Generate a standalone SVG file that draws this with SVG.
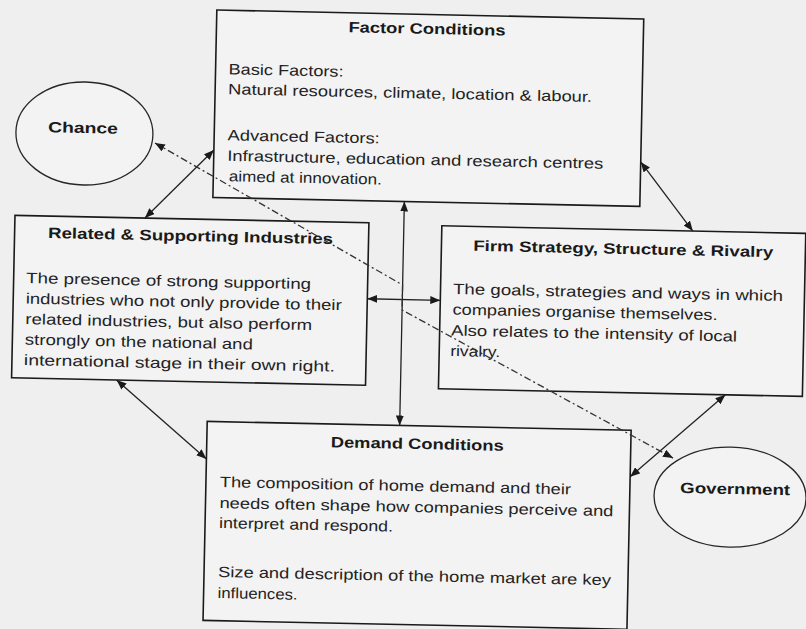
<svg xmlns="http://www.w3.org/2000/svg" width="806" height="629" viewBox="0 0 806 629">
  <style>
    .box { fill: #f3f3f3; stroke: #1a1a1a; stroke-width: 1.6; }
    .oval { fill: #f3f3f3; stroke: #262626; stroke-width: 1.3; }
    .t { font-family: "Liberation Sans", Arial, sans-serif; font-size: 15px; fill: #222222; }
    .h { font-family: "Liberation Sans", Arial, sans-serif; font-size: 15px; font-weight: bold; fill: #1a1a1a; text-anchor: middle; }
    .con { fill: none; stroke: #222222; stroke-width: 1.3; }
    .dash { fill: none; stroke: #333333; stroke-width: 1.3; stroke-dasharray: 7 3 2 3; }
  </style>
  <defs>
    <marker id="ah" viewBox="0 0 10 8" refX="10" refY="4" markerWidth="10" markerHeight="8" markerUnits="userSpaceOnUse" orient="auto-start-reverse">
      <path d="M0,0 L10,4 L0,8 z" fill="#1a1a1a"/>
    </marker>
  </defs>
  <rect x="0" y="0" width="806" height="629" fill="#efefef"/>
  <g transform="rotate(1.2 403 314)">
    <g id="factor-conditions">
      <rect class="box" x="210.5" y="14" width="427" height="187.5"/>
      <text class="h" x="421" y="33.5" textLength="157" lengthAdjust="spacingAndGlyphs">Factor Conditions</text>
      <text class="t" x="223.5" y="78" textLength="115" lengthAdjust="spacingAndGlyphs">Basic Factors:</text>
      <text class="t" x="223.5" y="98" textLength="364" lengthAdjust="spacingAndGlyphs">Natural resources, climate, location &amp; labour.</text>
      <text class="t" x="224" y="144" textLength="152" lengthAdjust="spacingAndGlyphs">Advanced Factors:</text>
      <text class="t" x="224" y="164.5" textLength="376" lengthAdjust="spacingAndGlyphs">Infrastructure, education and research centres</text>
      <text class="t" x="226" y="185" textLength="153" lengthAdjust="spacingAndGlyphs">aimed at innovation.</text>
    </g>
    <g id="related-supporting">
      <rect class="box" x="13" y="223.5" width="354" height="162.5"/>
      <text class="h" x="189" y="245.5" textLength="285" lengthAdjust="spacingAndGlyphs">Related &amp; Supporting Industries</text>
      <text class="t" x="25.5" y="291" textLength="285" lengthAdjust="spacingAndGlyphs">The presence of strong supporting</text>
      <text class="t" x="25.5" y="311.5" textLength="316" lengthAdjust="spacingAndGlyphs">industries who not only provide to their</text>
      <text class="t" x="25.5" y="332" textLength="287" lengthAdjust="spacingAndGlyphs">related industries, but also perform</text>
      <text class="t" x="25.5" y="352.5" textLength="228" lengthAdjust="spacingAndGlyphs">strongly on the national and</text>
      <text class="t" x="25" y="373" textLength="311" lengthAdjust="spacingAndGlyphs">international stage in their own right.</text>
    </g>
    <g id="firm-strategy">
      <rect class="box" x="440" y="225" width="364" height="163"/>
      <text class="h" x="621.8" y="249.4" textLength="300" lengthAdjust="spacingAndGlyphs">Firm Strategy, Structure &amp; Rivalry</text>
      <text class="t" x="452.5" y="293" textLength="330" lengthAdjust="spacingAndGlyphs">The goals, strategies and ways in which</text>
      <text class="t" x="452.5" y="313.5" textLength="265" lengthAdjust="spacingAndGlyphs">companies organise themselves.</text>
      <text class="t" x="451.5" y="334.5" textLength="286" lengthAdjust="spacingAndGlyphs">Also relates to the intensity of local</text>
      <text class="t" x="451" y="355" textLength="50" lengthAdjust="spacingAndGlyphs">rivalry.</text>
    </g>
    <g id="demand-conditions">
      <rect class="box" x="209.5" y="425.5" width="424" height="199"/>
      <text class="h" x="420" y="448.7" textLength="173" lengthAdjust="spacingAndGlyphs">Demand Conditions</text>
      <text class="t" x="223.5" y="490.8" textLength="351" lengthAdjust="spacingAndGlyphs">The composition of home demand and their</text>
      <text class="t" x="223.5" y="511.8" textLength="394" lengthAdjust="spacingAndGlyphs">needs often shape how companies perceive and</text>
      <text class="t" x="223.5" y="531.8" textLength="174" lengthAdjust="spacingAndGlyphs">interpret and respond.</text>
      <text class="t" x="223.5" y="580.8" textLength="393" lengthAdjust="spacingAndGlyphs">Size and description of the home market are key</text>
      <text class="t" x="223.5" y="601.8" textLength="80" lengthAdjust="spacingAndGlyphs">influences.</text>
    </g>
    <g id="chance">
      <ellipse class="oval" cx="80.7" cy="140.2" rx="68.5" ry="51.5"/>
      <text class="h" x="79.2" y="139.7" textLength="70" lengthAdjust="spacingAndGlyphs">Chance</text>
    </g>
    <g id="government">
      <ellipse class="oval" cx="733.8" cy="490.2" rx="76" ry="50"/>
      <text class="h" x="738.8" y="487.1" textLength="110" lengthAdjust="spacingAndGlyphs">Government</text>
    </g>
    <g id="connectors">
      <line class="con" x1="143" y1="223.5" x2="210.5" y2="154" marker-start="url(#ah)" marker-end="url(#ah)"/>
      <line class="con" x1="637.5" y1="157" x2="691" y2="225" marker-start="url(#ah)" marker-end="url(#ah)"/>
      <line class="con" x1="402" y1="201.5" x2="402" y2="425.5" marker-start="url(#ah)" marker-end="url(#ah)"/>
      <line class="con" x1="367" y1="299.5" x2="440" y2="299.5" marker-start="url(#ah)" marker-end="url(#ah)"/>
      <line class="con" x1="118" y1="386" x2="209.5" y2="463" marker-start="url(#ah)" marker-end="url(#ah)"/>
      <line class="con" x1="727" y1="388" x2="633.5" y2="472" marker-start="url(#ah)" marker-end="url(#ah)"/>
      <polyline class="dash" points="151.4,148.2 402,285 402,310 676,452.4" marker-start="url(#ah)" marker-end="url(#ah)"/>
    </g>
  </g>
</svg>
